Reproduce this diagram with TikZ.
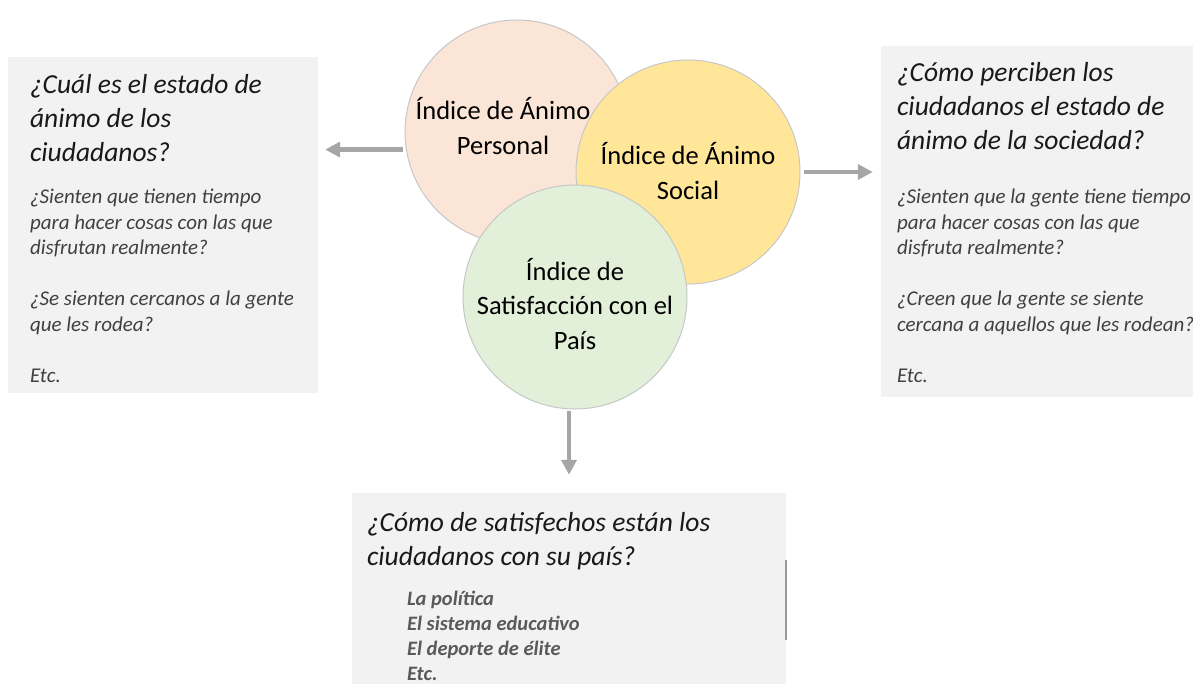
\documentclass[tikz,border=0pt]{standalone}
\usepackage{fontspec}
\setmainfont{Carlito}
\usetikzlibrary{positioning, arrows.meta}
\definecolor{box_gray}{HTML}{F2F2F2}
\definecolor{text_gray}{HTML}{404040}
\definecolor{arrow_gray}{HTML}{A6A6A6}
\definecolor{peach}{HTML}{FBE5D6}
\definecolor{soft_yellow}{HTML}{FFE699}
\definecolor{soft_green}{HTML}{E2F0D9}
\tikzset{
    info_box/.style={rectangle, fill=box_gray, draw=none, inner sep=0pt},
    index_circ/.style={circle, draw=black!22, line width=1pt, minimum size=224pt, inner sep=0pt},
    circ_label/.style={inner sep=0pt, text centered, align=center, font=\fontsize{26.5}{34.5}\selectfont},
    title_text/.style={inner sep=0pt, align=left, text=black!90, font=\itshape\fontsize{27.5}{34}\selectfont},
    body_text/.style={inner sep=0pt, align=left, text=text_gray, font=\itshape\fontsize{21}{25.5}\selectfont},
    list_text/.style={inner sep=0pt, align=left, text=black!65, font=\bfseries\itshape\fontsize{20.5}{25}\selectfont},
    arrow/.style={line width=4.5pt, draw=arrow_gray, -{Triangle[length=15pt, width=15pt]}},
    edge_mark/.style={line width=1.5pt, draw=black!40},
}

\begin{document}
\begin{tikzpicture}[x=1pt, y=-1pt]
      \useasboundingbox (0,0) rectangle (1193,684);
      %%%%%%%%%
      % Boxes %
      %%%%%%%%%
      \node (leftbox) [info_box, minimum width=310pt, minimum height=336pt] at (163,225) {};
      \node (rightbox) [info_box, minimum width=312pt, minimum height=351pt] at (1037,221.5) {};
      \node (bottombox) [info_box, minimum width=434pt, minimum height=191pt] at (569,588.5) {};

      \node (lefttitle) [title_text, below right = 17pt and 22pt of leftbox.north west]
          {¿Cuál es el estado de\\ ánimo de los\\ ciudadanos?};
      \node (leftbody) [body_text, below right = 132pt and 22pt of leftbox.north west]
          {¿Sienten que tienen tiempo\\ para hacer cosas con las que\\ disfrutan realmente?\\[25.5pt]
           ¿Se sienten cercanos a la gente\\ que les rodea?\\[25.5pt] Etc.};

      \node (righttitle) [title_text, below right = 16pt and 16pt of rightbox.north west]
          {¿Cómo perciben los\\ ciudadanos el estado de\\ ánimo de la sociedad?};
      \node (rightbody) [body_text, below right = 143pt and 16pt of rightbox.north west]
          {¿Sienten que la gente tiene tiempo\\ para hacer cosas con las que\\ disfruta realmente?\\[25.5pt]
           ¿Creen que la gente se siente\\ cercana a aquellos que les rodean?\\[25.5pt] Etc.};

      \node (bottomtitle) [title_text, below right = 19pt and 15pt of bottombox.north west]
          {¿Cómo de satisfechos están los\\ ciudadanos con su país?};
      \node (bottomlist) [list_text, below right = 98pt and 55pt of bottombox.north west]
          {La política\\ El sistema educativo\\ El deporte de élite\\ Etc.};
      \draw [edge_mark] ([yshift=-67pt]bottombox.north east) -- ([yshift=-147pt]bottombox.north east);

      %%%%%%%%%%%
      % Circles %
      %%%%%%%%%%%
      \node (personal) [index_circ, fill=peach] at (517,132) {};
      \node (social) [index_circ, fill=soft_yellow] at (688,172) {};
      \node (country) [index_circ, fill=soft_green] at (575,297) {};

      \node (personallabel) [circ_label, xshift=-14pt, yshift=6pt] at (personal.center)
          {Índice de Ánimo\\ Personal};
      \node (sociallabel) [circ_label, yshift=1pt] at (social.center)
          {Índice de Ánimo\\ Social};
      \node (countrylabel) [circ_label, yshift=-7pt] at (country.center)
          {Índice de\\ Satisfacción con el\\ País};

      \draw [arrow, shorten <=3pt, shorten >=7pt] (personal.189) -- (leftbox.east |- personal.189);
      \draw [arrow, shorten <=3pt, shorten >=8pt] (social.east) -- (rightbox.west |- social.east);
      \draw [arrow, shorten <=1pt, shorten >=18pt] ([xshift=-6pt]country.south) -- ([xshift=-6pt]country.south |- bottombox.north);

    \end{tikzpicture}
\end{document}
